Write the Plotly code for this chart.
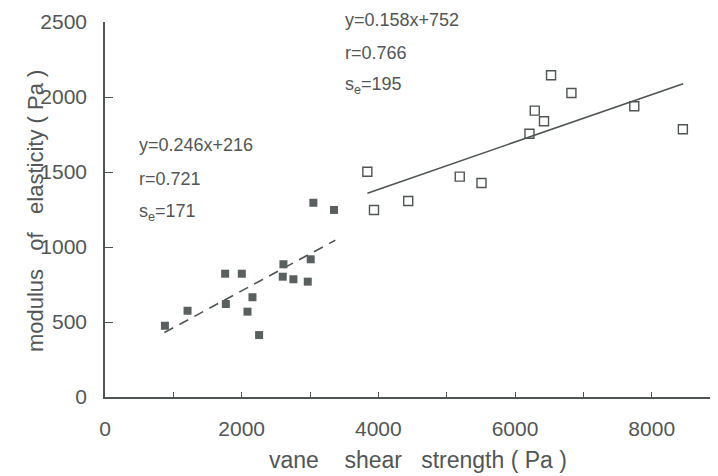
import plotly.graph_objects as go

# ---- data ----
filled_x = [877, 1208, 1758, 2002, 1768, 2158, 2085, 2255, 2611, 2601, 2757, 2967, 3010, 3049, 3351]
filled_y = [475, 575, 822, 822, 620, 665, 569, 413, 885, 802, 785, 769, 918, 1295, 1247]

open_x = [3839, 3936, 4437, 5191, 5509, 6211, 6289, 6424, 6527, 6825, 7745, 8456]
open_y = [1502, 1247, 1307, 1469, 1427, 1755, 1909, 1838, 2145, 2027, 1938, 1785]

# regression lines (coefficients as printed on the chart) and their x extents
fit_low = dict(slope=0.246, intercept=216, x=[870, 3370])
fit_high = dict(slope=0.158, intercept=752, x=[3840, 8460])

x_tickvals = [0, 2000, 4000, 6000, 8000]
x_ticktext = ["0", "2000", "4000", "6000", "8000"]
y_tickvals = [0, 500, 1000, 1500, 2000, 2500]
y_ticktext = ["0", "500", "1000", "1500", "2000", "2500"]

low_labels = ["y=0.246x+216", "r=0.721", "s<sub>e</sub>=171"]
high_labels = ["y=0.158x+752", "r=0.766", "s<sub>e</sub>=195"]

x_title = "vane\u00a0\u00a0\u00a0\u00a0shear\u00a0\u00a0\u00a0strength\u00a0(\u00a0Pa\u00a0)"
y_title = "modulus\u00a0\u00a0\u00a0of\u00a0\u00a0\u00a0elasticity\u00a0(\u00a0Pa\u00a0)"

# ---- styling ----
INK = "#4f5454"
TXT = "#525656"
FONT = "Liberation Sans, Arial, sans-serif"

fig = go.Figure()

fig.add_trace(go.Scatter(
    x=fit_low["x"],
    y=[fit_low["slope"] * v + fit_low["intercept"] for v in fit_low["x"]],
    mode="lines", line=dict(color=INK, width=1.6, dash="10px,7px"),
    showlegend=False, hoverinfo="skip"))
fig.add_trace(go.Scatter(
    x=fit_high["x"],
    y=[fit_high["slope"] * v + fit_high["intercept"] for v in fit_high["x"]],
    mode="lines", line=dict(color=INK, width=1.6),
    showlegend=False, hoverinfo="skip"))

fig.add_trace(go.Scatter(
    x=filled_x, y=filled_y, mode="markers",
    marker=dict(symbol="square", size=8, color="#5a5f60", line=dict(width=0)),
    showlegend=False))
fig.add_trace(go.Scatter(
    x=open_x, y=open_y, mode="markers",
    marker=dict(symbol="square-open", size=9, color=INK, line=dict(width=1.4)),
    showlegend=False))

# statistic annotations (paper coordinates)
for t, yy in zip(low_labels, [0.672, 0.581, 0.491]):
    fig.add_annotation(xref="paper", yref="paper", x=0.052, y=yy, text=t, showarrow=False,
                       xanchor="left", yanchor="middle",
                       font=dict(family=FONT, size=18, color=TXT))
for t, yy in zip(high_labels, [1.005, 0.917, 0.832]):
    fig.add_annotation(xref="paper", yref="paper", x=0.388, y=yy, text=t, showarrow=False,
                       xanchor="left", yanchor="middle",
                       font=dict(family=FONT, size=18, color=TXT))

# axis titles
fig.add_annotation(xref="paper", yref="paper", x=0.511, y=-0.168, text=x_title,
                   showarrow=False, xanchor="center", yanchor="middle",
                   font=dict(family=FONT, size=23, color=TXT))
fig.add_annotation(xref="paper", yref="paper", x=-0.114, y=0.496, text=y_title,
                   showarrow=False, xanchor="center", yanchor="middle", textangle=-90,
                   font=dict(family=FONT, size=22, color=TXT))

# the page body adds an 8px offset, so the figure is 8px smaller and margins shifted
fig.update_layout(
    width=710, height=468,
    margin=dict(l=97, r=0, t=14, b=79, autoexpand=False),
    paper_bgcolor="white", plot_bgcolor="white",
    font=dict(family=FONT, color=TXT),
    xaxis=dict(
        range=[0, 8970], tickvals=x_tickvals, ticktext=x_ticktext,
        ticks="inside", ticklen=5, tickwidth=1.3, tickcolor=INK,
        minor=dict(dtick=1000, tick0=0, ticks="inside", ticklen=5, tickwidth=1.3, tickcolor=INK),
        showline=True, linecolor=INK, linewidth=1.6, showgrid=False, zeroline=False,
        tickfont=dict(size=21, color=TXT), ticklabelstandoff=12, automargin=False,
    ),
    yaxis=dict(
        range=[0, 2500], tickvals=y_tickvals, ticktext=y_ticktext,
        ticks="inside", ticklen=8, tickwidth=1.3, tickcolor=INK,
        showline=True, linecolor=INK, linewidth=1.6, showgrid=False, zeroline=False,
        tickfont=dict(size=21, color=TXT), ticklabelstandoff=12, automargin=False,
    ),
)

fig.write_html("out.html")
